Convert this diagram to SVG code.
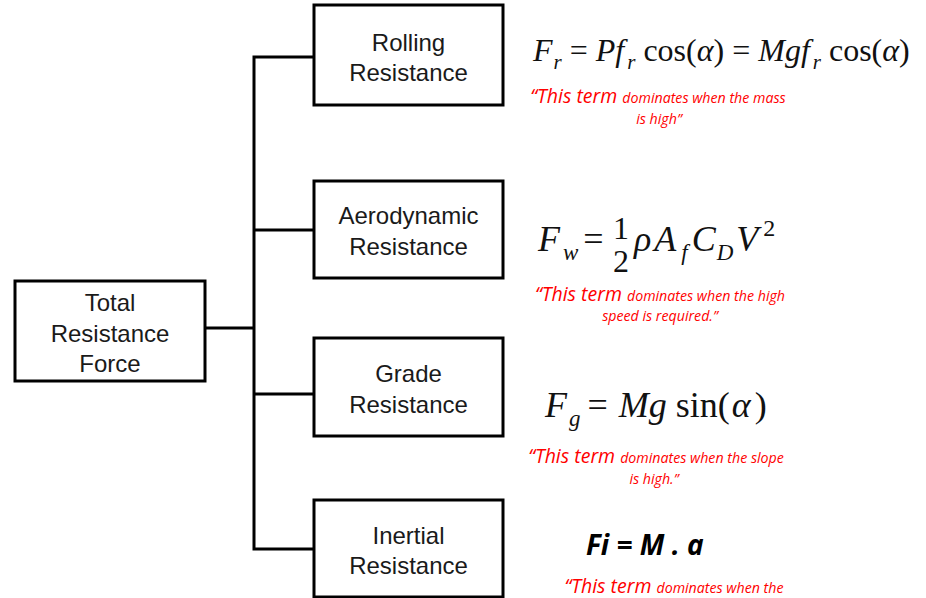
<svg xmlns="http://www.w3.org/2000/svg" width="926" height="598" viewBox="0 0 926 598">
<style>
.box{fill:#fff;stroke:#000;stroke-width:3}
.lbl{font-family:"Liberation Sans",Arial,sans-serif;font-size:24px;fill:#1a1a1a;text-anchor:middle}
.conn{fill:none;stroke:#000;stroke-width:3}
.eq{font-family:"Liberation Serif","Times New Roman",serif;fill:#111}
.it{font-style:italic}
.red{font-family:"Open Sans","Noto Sans",sans-serif;font-style:italic;fill:#ff0000;text-anchor:middle}
.big{font-size:19.5px}
.sm{font-size:14.2px}
</style>
<rect width="926" height="598" fill="#fff"/>
<g id="connectors">
<path class="conn" d="M205,328 H255"/>
<path class="conn" d="M314,57 H254 V549 H314"/>
<path class="conn" d="M254,230 H314"/>
<path class="conn" d="M254,394 H314"/>
</g>
<g id="total">
<rect class="box" x="15" y="281" width="190" height="100"/>
<text class="lbl" x="110" y="310.5">Total</text>
<text class="lbl" x="110" y="341.5">Resistance</text>
<text class="lbl" x="110" y="371.5">Force</text>
</g>
<g id="rolling">
<rect class="box" x="314" y="5" width="189" height="100"/>
<text class="lbl" x="408.5" y="50.5">Rolling</text>
<text class="lbl" x="408.5" y="80.5">Resistance</text>
</g>
<g id="aero">
<rect class="box" x="314" y="181" width="189" height="97"/>
<text class="lbl" x="408.5" y="223.5">Aerodynamic</text>
<text class="lbl" x="408.5" y="254.5">Resistance</text>
</g>
<g id="grade">
<rect class="box" x="314" y="338" width="189" height="98"/>
<text class="lbl" x="408.5" y="381.5">Grade</text>
<text class="lbl" x="408.5" y="412.5">Resistance</text>
</g>
<g id="inertial">
<rect class="box" x="314" y="500" width="189" height="97"/>
<text class="lbl" x="408.5" y="543.5">Inertial</text>
<text class="lbl" x="408.5" y="573.5">Resistance</text>
</g>
<g id="eq-rolling">
<text class="eq" x="533" y="61" font-size="32"><tspan class="it">F</tspan><tspan class="it" font-size="21" dx="1" dy="8">r</tspan><tspan dy="-8"> = </tspan><tspan class="it">Pf</tspan><tspan class="it" font-size="21" dx="3" dy="8">r</tspan><tspan dy="-8"> cos(</tspan><tspan class="it">α</tspan><tspan>) = </tspan><tspan class="it">Mgf</tspan><tspan class="it" font-size="21" dx="3" dy="8">r</tspan><tspan dy="-8"> cos(</tspan><tspan class="it">α</tspan><tspan>)</tspan></text>
<text class="red" x="658" y="103"><tspan class="big">“This term </tspan><tspan class="sm">dominates when the mass</tspan></text>
<text class="red sm" x="659" y="124">is high”</text>
</g>
<g id="eq-aero">
<text class="eq" x="538" y="251" font-size="36"><tspan class="it">F</tspan><tspan class="it" font-size="23" dx="3" dy="9">w</tspan><tspan dx="5" dy="-9">=</tspan></text>
<text class="eq" x="621" y="239" font-size="32" text-anchor="middle">1</text>
<text class="eq" x="621" y="272" font-size="32" text-anchor="middle">2</text>
<text class="eq" x="634" y="251" font-size="36"><tspan class="it">ρ</tspan><tspan class="it" dx="3">A</tspan><tspan class="it" font-size="23" dx="5" dy="9">f</tspan><tspan class="it" dx="4" dy="-9">C</tspan><tspan class="it" font-size="23" dx="1" dy="9">D</tspan><tspan class="it" dx="3" dy="-9">V</tspan><tspan font-size="24" dx="5" dy="-15">2</tspan></text>
<text class="red" x="660" y="301"><tspan class="big">“This term </tspan><tspan class="sm">dominates when the high</tspan></text>
<text class="red sm" x="660" y="321">speed is required.”</text>
</g>
<g id="eq-grade">
<text class="eq" x="545" y="417" font-size="36"><tspan class="it">F</tspan><tspan class="it" font-size="23" dx="2" dy="9">g</tspan><tspan dx="7" dy="-9">=</tspan><tspan class="it" dx="11">Mg</tspan><tspan> sin(</tspan><tspan class="it" dx="2">α</tspan><tspan dx="4">)</tspan></text>
<text class="red" x="656" y="463"><tspan class="big">“This term </tspan><tspan class="sm">dominates when the slope</tspan></text>
<text class="red sm" x="654" y="484">is high.”</text>
</g>
<g id="eq-inertial">
<text x="586" y="555" font-family="'Open Sans','Liberation Sans',sans-serif" font-size="28" font-weight="bold" font-style="italic" fill="#000">Fi = M . a</text>
<text class="red" x="674" y="593"><tspan class="big">“This term </tspan><tspan class="sm">dominates when the</tspan></text>
</g>
</svg>
